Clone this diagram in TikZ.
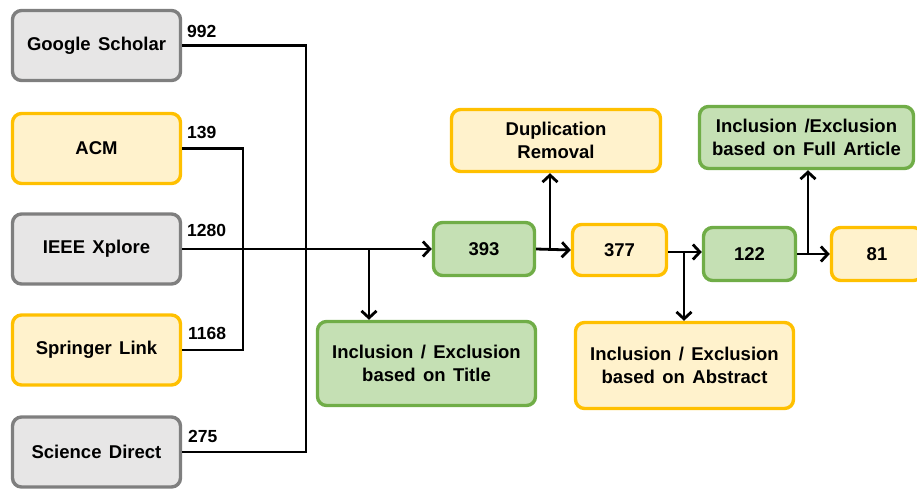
\documentclass[tikz,border=0pt]{standalone}
\usepackage{fontspec}
\setmainfont{Liberation Sans}
\usetikzlibrary{arrows.meta}
\definecolor{grayfill}{HTML}{E7E6E6}
\definecolor{grayline}{HTML}{7F7F7F}
\definecolor{yelfill}{HTML}{FFF2CC}
\definecolor{yelline}{HTML}{FFC000}
\definecolor{grnfill}{HTML}{C5E0B4}
\definecolor{grnline}{HTML}{70AD47}
\newcommand{\boxfont}{\fontsize{18.5}{23.5}\selectfont\bfseries\spaceskip=0.4em\relax}
\tikzset{
  box/.style={rectangle, rounded corners=9pt, line width=3.4pt, align=center,
    font=\boxfont, inner sep=0pt},
  graybox/.style={box, draw=grayline, fill=grayfill},
  yelbox/.style={box, draw=yelline, fill=yelfill},
  grnbox/.style={box, draw=grnline, fill=grnfill},
  conn/.style={line width=2.8pt, black},
  arr/.style={conn, -{Straight Barb[length=7pt, width=15pt, line width=2.8pt]}},
  cnt/.style={font=\fontsize{17.5}{20}\selectfont\bfseries, anchor=west, inner sep=0pt}
}
\begin{document}
\begin{tikzpicture}[x=1pt, y=-1pt]
\useasboundingbox (0,0) rectangle (917,488);
\clip (0,0) rectangle (917,488);
% sources
\node[graybox, minimum width=168pt, minimum height=70pt] (gs) at (96.5,45.5) {Google Scholar};
\node[yelbox, minimum width=168pt, minimum height=70pt] (acm) at (96.5,148.5) {ACM};
\node[graybox, minimum width=168pt, minimum height=70pt] (ieee) at (96.5,249) {IEEE Xplore};
\node[yelbox, minimum width=168pt, minimum height=70pt] (spr) at (96.5,350) {Springer Link};
\node[graybox, minimum width=168pt, minimum height=70pt] (sd) at (96.5,452) {Science Direct};
% counts
\node[cnt] (c1) at (187,31) {992};
\node[cnt] (c2) at (187,132) {139};
\node[cnt] (c3) at (187,230) {1280};
\node[cnt] (c4) at (188,333) {1168};
\node[cnt] (c5) at (188,436) {275};
% process
\node[grnbox, minimum width=101pt, minimum height=53pt] (n393) at (484,249) {393};
\node[grnbox, minimum width=218pt, minimum height=84pt] (title) at (426.5,363.5) {Inclusion / Exclusion\\based on Title};
\node[yelbox, minimum width=94pt, minimum height=51pt] (n377) at (619.5,250) {377};
\node[yelbox, minimum width=209pt, minimum height=62pt] (dup) at (556,140.5) {Duplication\\Removal};
\node[yelbox, minimum width=218pt, minimum height=86pt] (abs) at (684.5,365.5) {Inclusion / Exclusion\\based on Abstract};
\node[grnbox, minimum width=92pt, minimum height=53pt] (n122) at (749.5,254) {122};
\node[grnbox, minimum width=214pt, minimum height=62pt] (full) at (806.5,137.5) {Inclusion /Exclusion\\based on Full Article};
\node[yelbox, minimum width=91pt, minimum height=53pt] (n81) at (877,254) {81};
% junctions
\coordinate (jA) at (243,249);
\coordinate (jB) at (306,249);
\coordinate (jT) at (369,249);
\coordinate (jD) at (550,249);
\coordinate (jS) at (684,252);
\coordinate (jF) at (808,254);
% source connectors
\draw[conn] (acm.east) -| (jA);
\draw[conn] (spr.east) -| (jA);
\draw[conn] (gs.east) -| (jB);
\draw[conn] (sd.east) -| (jB);
\draw[arr] (ieee.east) -- (n393.west);
\draw[arr] (jT) -- (jT |- title.north);
% flow
\draw[arr] (n393.east) -- (n377.west);
\draw[arr] (jD) -- (jD |- dup.south);
\draw[arr] (n377.east |- jS) -- (jS -| n122.west);
\draw[arr] (jS) -- (jS |- abs.north);
\draw[arr] (n122.east) -- (n81.west);
\draw[arr] (jF) -- (jF |- full.south);
\end{tikzpicture}
\end{document}
